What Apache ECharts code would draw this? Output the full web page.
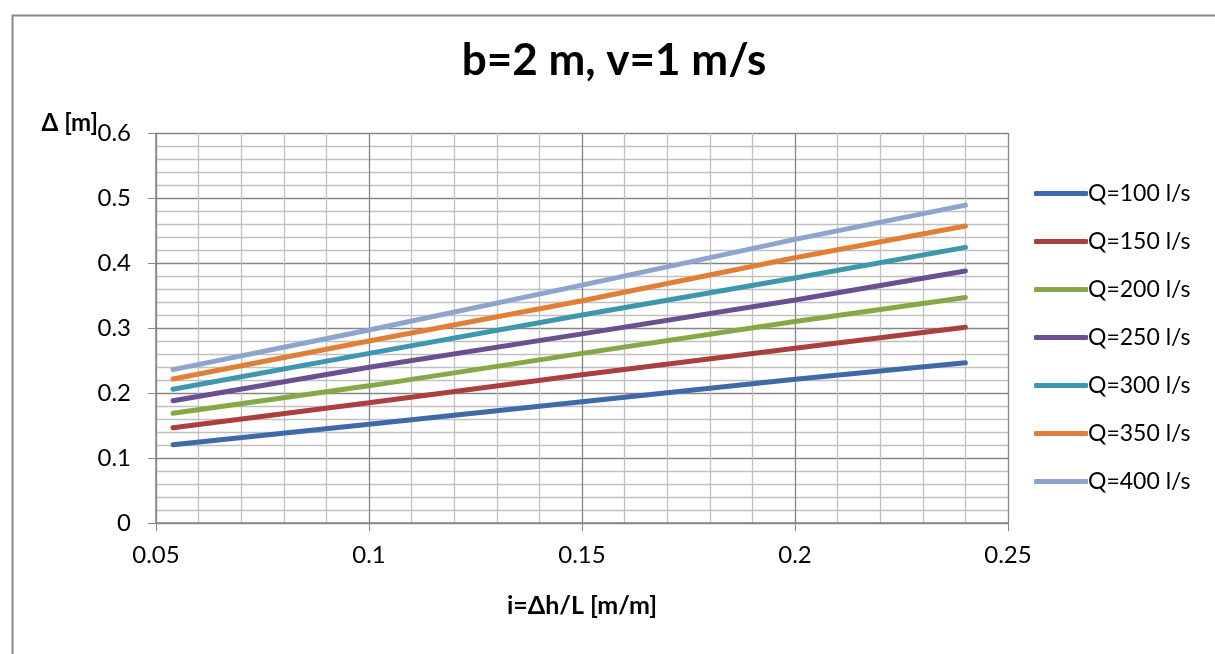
<!DOCTYPE html>
<html>
<head>
<meta charset="utf-8">
<script src="https://cdn.jsdelivr.net/npm/echarts@6/dist/echarts.min.js"></script>
<style>
html,body{margin:0;padding:0;background:#fff;}
#chart{width:1215px;height:654px;}
</style>
</head>
<body>
<div id="chart"></div>
<script>
const slopes = [0.054, 0.1, 0.15, 0.2, 0.24];
const seriesNames = ['Q=100 l/s','Q=150 l/s','Q=200 l/s','Q=250 l/s','Q=300 l/s','Q=350 l/s','Q=400 l/s'];
const q100 = [0.1205, 0.152, 0.1867, 0.221, 0.2466];
const q150 = [0.1467, 0.185, 0.228, 0.269, 0.301];
const q200 = [0.1687, 0.211, 0.261, 0.310, 0.347];
const q250 = [0.188, 0.2395, 0.291, 0.343, 0.3877];
const q300 = [0.2057, 0.261, 0.320, 0.377, 0.424];
const q350 = [0.2215, 0.280, 0.342, 0.408, 0.457];
const q400 = [0.236, 0.297, 0.366, 0.4364, 0.489];
const seriesValues = [q100, q150, q200, q250, q300, q350, q400];
const colors = ['#3F6AAA','#AA403D','#87A846','#6A5091','#3D97AE','#E07F35','#8DA5CC'];
const xTicks = {min: 0.05, max: 0.25, interval: 0.05};
const yTicks = {min: 0, max: 0.6, interval: 0.1};
const yAxisTitle = 'Δ [m]';

const font = 'Lato, "Open Sans", sans-serif';
const chart = echarts.init(document.getElementById('chart'), null, {renderer: 'canvas'});
const series = seriesNames.map((n, k) => ({
  name: n,
  type: 'line',
  symbol: 'none',
  smooth: false,
  data: slopes.map((x, j) => [x, seriesValues[k][j]]),
  lineStyle: {width: 5, color: colors[k], cap: 'round'},
  itemStyle: {color: colors[k]}
}));

chart.setOption({
  animation: false,
  backgroundColor: '#fff',
  graphic: [{
    type: 'rect', left: 10, top: 13, z: -10,
    shape: {x: 0, y: 0, width: 1300, height: 800},
    style: {fill: 'none', stroke: '#888', lineWidth: 2}
  }, {
    type: 'text', x: 98, y: 123, z: 10,
    style: {text: yAxisTitle, fill: '#000', font: 'bold 24px ' + font, textAlign: 'right', textVerticalAlign: 'middle'}
  }],
  title: {
    text: 'b=2 m, v=1 m/s',
    left: 609, top: 34, textAlign: 'center',
    textStyle: {fontFamily: font, fontWeight: 'bold', fontSize: 44, color: '#000'}
  },
  legend: {
    orient: 'vertical',
    left: 1029, top: 177,
    icon: 'roundRect',
    itemWidth: 54, itemHeight: 5, itemGap: 25,
    textStyle: {fontFamily: font, fontSize: 23, color: '#000', padding: [0,0,0,-5]},
    data: seriesNames
  },
  grid: {left: 156, top: 133, right: 207, bottom: 131, containLabel: false},
  xAxis: {
    type: 'value',
    min: xTicks.min, max: xTicks.max, interval: xTicks.interval,
    name: 'i=Δh/L [m/m]', nameLocation: 'middle', nameGap: 70,
    nameTextStyle: {fontFamily: font, fontWeight: 'bold', fontSize: 25, color: '#000'},
    axisLine: {show: true, lineStyle: {color: '#868686', width: 1.5}},
    axisTick: {show: true, inside: false, length: 8, lineStyle: {color: '#868686'}},
    axisLabel: {fontFamily: font, fontSize: 24, color: '#000', margin: 20},
    splitLine: {show: true, lineStyle: {color: '#868686', width: 1.3}},
    minorTick: {show: false, splitNumber: 5},
    minorSplitLine: {show: true, lineStyle: {color: '#C0C0C0', width: 1.3}}
  },
  yAxis: {
    type: 'value',
    min: yTicks.min, max: yTicks.max, interval: yTicks.interval,
    axisLine: {show: true, lineStyle: {color: '#868686', width: 1.5}},
    axisTick: {show: true, inside: false, length: 8, lineStyle: {color: '#868686'}},
    axisLabel: {fontFamily: font, fontSize: 24, color: '#000', margin: 25},
    splitLine: {show: true, lineStyle: {color: '#868686', width: 1.3}},
    minorTick: {show: false, splitNumber: 5},
    minorSplitLine: {show: true, lineStyle: {color: '#C0C0C0', width: 1.3}}
  },
  series: series
});
</script>
</body>
</html>
